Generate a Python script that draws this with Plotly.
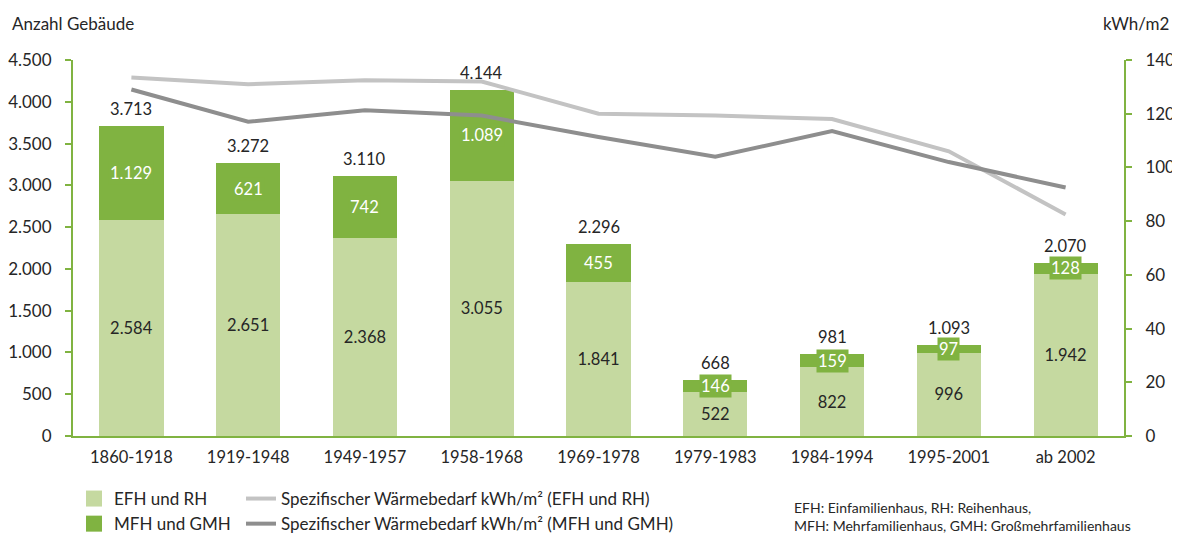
import plotly.graph_objects as go

categories = ["1860-1918", "1919-1948", "1949-1957", "1958-1968", "1969-1978",
              "1979-1983", "1984-1994", "1995-2001", "ab 2002"]
efh_rh = [2584, 2651, 2368, 3055, 1841, 522, 822, 996, 1942]
mfh_gmh = [1129, 621, 742, 1089, 455, 146, 159, 97, 128]
totals = [3713, 3272, 3110, 4144, 2296, 668, 981, 1093, 2070]
waerme_efh = [133.5, 131, 132.5, 132, 120, 119.3, 118, 106, 82.5]
waerme_mfh = [129, 117, 121.3, 119.3, 111.3, 104, 113.5, 102, 92.5]

C_LIGHT = "#c5d9a0"
C_DARK = "#80b341"
C_AXIS = "#80b341"
C_GRAY_L = "#c3c3c3"
C_GRAY_D = "#8e8e8e"
TXT = "#262626"
FONT = "Lato"
FS = 16.5

W, H = 1172, 525  # page body has an 8px margin
ML, MR, MT, MB = 65, 56, 52, 97
PW = W - ML - MR
PH = H - MT - MB


def fmt(v):
    return f"{v:,}".replace(",", ".")


def px_x(sx):  # screen px -> paper x
    return (sx - 8 - ML) / PW


def px_y(sy):  # screen px -> paper y
    return 1 - (sy - 8 - MT) / PH


fig = go.Figure()
fig.add_trace(go.Bar(x=categories, y=efh_rh, name="EFH und RH", marker_color=C_LIGHT,
                     marker_line_width=0, width=0.55, showlegend=False,
                     text=[fmt(v) for v in efh_rh], textposition="inside",
                     insidetextanchor="middle", textangle=0,
                     textfont=dict(color=TXT, size=FS, family=FONT),
                     hoverinfo="skip"))
fig.add_trace(go.Bar(x=categories, y=mfh_gmh, name="MFH und GMH", marker_color=C_DARK,
                     marker_line_width=0, width=0.55, showlegend=False, hoverinfo="skip"))
# legend entries for the bar series
fig.add_trace(go.Scatter(x=[None], y=[None], mode="markers", name="EFH und RH",
                         marker=dict(symbol="square", size=16, color=C_LIGHT),
                         legend="legend", legendgroup="a"))
fig.add_trace(go.Scatter(x=[None], y=[None], mode="markers", name="MFH und GMH",
                         marker=dict(symbol="square", size=16, color=C_DARK),
                         legend="legend", legendgroup="b"))
fig.add_trace(go.Scatter(x=categories, y=waerme_efh, yaxis="y2", mode="lines",
                         name="Spezifischer Wärmebedarf kWh/m² (EFH und RH)",
                         line=dict(color=C_GRAY_L, width=4), legend="legend2", legendgroup="c",
                         hoverinfo="skip"))
fig.add_trace(go.Scatter(x=categories, y=waerme_mfh, yaxis="y2", mode="lines",
                         name="Spezifischer Wärmebedarf kWh/m² (MFH und GMH)",
                         line=dict(color=C_GRAY_D, width=4), legend="legend2", legendgroup="d",
                         hoverinfo="skip"))

annotations = []
for c, e, m, t in zip(categories, efh_rh, mfh_gmh, totals):
    annotations.append(dict(x=c, y=e + m / 2, text=fmt(m), showarrow=False,
                            font=dict(color="white", size=FS, family=FONT),
                            bgcolor=C_DARK, borderpad=1, xref="x", yref="y"))
    annotations.append(dict(x=c, y=t, text=fmt(t), showarrow=False, yanchor="bottom",
                            yshift=5, font=dict(color=TXT, size=FS, family=FONT),
                            xref="x", yref="y"))

annotations += [
    dict(text="Anzahl Gebäude", xref="paper", yref="paper", x=px_x(10), y=px_y(23),
         xanchor="left", yanchor="middle", showarrow=False,
         font=dict(size=17, color=TXT, family=FONT)),
    dict(text="kWh/m2", xref="paper", yref="paper", x=px_x(1171), y=px_y(23),
         xanchor="right", yanchor="middle", showarrow=False,
         font=dict(size=17, color=TXT, family=FONT)),
    dict(text="EFH: Einfamilienhaus, RH: Reihenhaus,<br>MFH: Mehrfamilienhaus, GMH: Großmehrfamilienhaus",
         xref="paper", yref="paper", x=px_x(792), y=px_y(516), xanchor="left", yanchor="middle",
         align="left", showarrow=False, font=dict(size=14, color=TXT, family=FONT)),
]

fig.update_layout(
    width=W, height=H,
    margin=dict(l=ML, r=MR, t=MT, b=MB, autoexpand=False),
    paper_bgcolor="white", plot_bgcolor="white",
    barmode="stack",
    separators=",.",
    font=dict(family=FONT, size=FS, color=TXT),
    showlegend=True,
    uniformtext=dict(mode=False),
    xaxis=dict(showline=True, linecolor=C_AXIS, linewidth=2, ticks="", showgrid=False,
               tickfont=dict(size=FS, color=TXT), ticklabelstandoff=5, tickangle=0,
               fixedrange=True),
    yaxis=dict(range=[0, 4500], dtick=500, tickformat=",d", showline=True, linecolor=C_AXIS,
               linewidth=2, ticks="outside", tickcolor=C_AXIS, ticklen=6, tickwidth=2,
               showgrid=False, zeroline=False, tickfont=dict(size=17, color=TXT),
               ticklabelstandoff=10),
    yaxis2=dict(range=[0, 140], dtick=20, overlaying="y", side="right", showline=True,
                linecolor=C_AXIS, linewidth=2, ticks="outside", tickcolor=C_AXIS, ticklen=6,
                tickwidth=2, showgrid=False, zeroline=False, tickfont=dict(size=17, color=TXT),
                ticklabelstandoff=10),
    legend=dict(x=px_x(74), y=px_y(481),
                xanchor="left", yanchor="top", orientation="v", traceorder="normal",
                tracegroupgap=3, itemsizing="trace",
                font=dict(size=17, color=TXT), bgcolor="rgba(0,0,0,0)"),
    legend2=dict(x=px_x(241), y=px_y(481),
                 xanchor="left", yanchor="top", orientation="v", traceorder="normal",
                 tracegroupgap=3,
                 font=dict(size=17, color=TXT), bgcolor="rgba(0,0,0,0)"),
    annotations=annotations,
)

fig.write_html("out.html")
